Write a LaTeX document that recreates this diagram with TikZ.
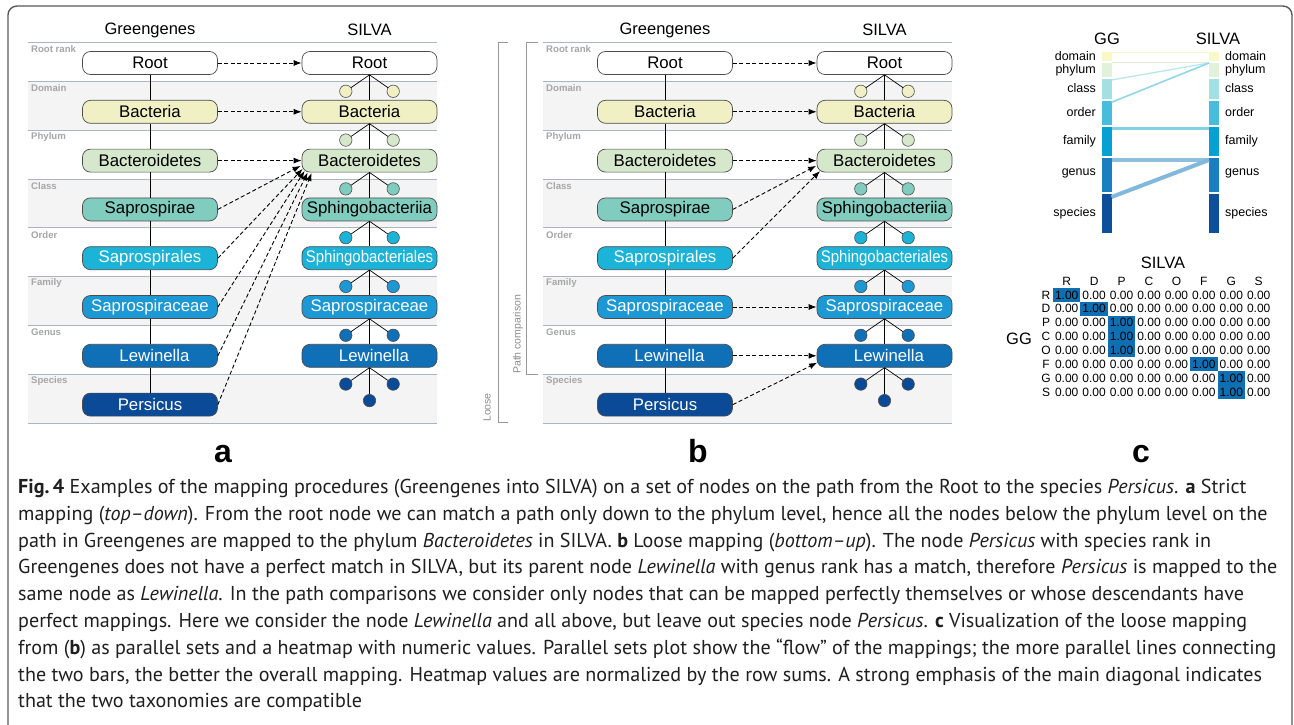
\documentclass[tikz,border=0pt]{standalone}
\usepackage{fontspec}
\usepackage{graphicx}
\setmainfont{Liberation Sans}
\newfontfamily\capfont{PT Sans}
\usetikzlibrary{arrows.meta}
\newcommand{\fsz}[1]{\fontsize{#1}{#1}\selectfont}
\newcommand{\sphord}{\scalebox{0.89}[1]{Sphingobacteriales}}
\newcommand{\lewtxt}{\hspace*{9pt}Lewinella}
\definecolor{cdom}{HTML}{F1F0C4}
\definecolor{cphy}{HTML}{D5E8CB}
\definecolor{ccla}{HTML}{80CDC0}
\definecolor{cord}{HTML}{1BB4D8}
\definecolor{cfam}{HTML}{1C98D4}
\definecolor{cgen}{HTML}{0F70B7}
\definecolor{cspe}{HTML}{0B4A96}
\definecolor{bandgrey}{HTML}{F4F4F4}
\definecolor{rowln}{HTML}{A8B6C4}
\definecolor{pdom}{HTML}{FAF8C9}
\definecolor{pphy}{HTML}{E0F3DA}
\definecolor{pcla}{HTML}{A2E0E3}
\definecolor{pord}{HTML}{47BDDB}
\definecolor{pfam}{HTML}{06A0D2}
\definecolor{pgen}{HTML}{1A7FC1}
\definecolor{pspe}{HTML}{0C4F9B}
\definecolor{hmblue}{HTML}{0F6FB3}
\tikzset{
  tax/.style={draw=black!70, line width=0.7pt, rounded corners=8pt, minimum width=135pt,
    minimum height=23pt, inner sep=0pt, font=\fsz{16.8}},
  circ/.style={circle, draw=black!70, line width=0.6pt, minimum size=12.4pt, inner sep=0pt},
  tline/.style={line width=0.7pt, black},
  marr/.style={line width=0.9pt, dash pattern=on 4pt off 2.5pt, -{Latex[length=8pt,width=6pt]}},
  band/.style={fill=bandgrey},
  rowline/.style={draw=rowln, line width=0.8pt},
  ranklab/.style={anchor=west, inner sep=0pt, font=\fsz{9.6}\bfseries, text=black!35},
  hdr/.style={inner sep=0pt, font=\fsz{16.5}},
  plab/.style={inner sep=0pt, font=\fsz{32}\bfseries, anchor=base},
  brk/.style={draw=black!40, line width=0.9pt},
  brklab/.style={inner sep=0pt, font=\fsz{10.5}, text=black!45, rotate=90, anchor=west},
  pslab/.style={inner sep=0pt, font=\fsz{12.5}},
  hm/.style={inner sep=0pt, font=\fsz{12}},
  captxt/.style={anchor=base west, inner sep=0pt, font=\capfont\fsz{20.1}, text=black!88},
  frame/.style={draw=black!65, line width=1.4pt, rounded corners=9pt}
}
\newcommand{\drawtree}{%
  \foreach \i in {1,3,5,7}{\fill[band] (28,{32.5+48.8*\i}) rectangle (437,{81.3+48.8*\i});}
  \draw[rowline] (28,42) -- (437,42);
  \foreach \i in {1,...,8}{\draw[rowline] (28,{32.5+48.8*\i}) -- (437,{32.5+48.8*\i});}
  \node[ranklab] (rk0) at (31,49) {Root rank};
  \foreach \i/\r in {1/Domain,2/Phylum,3/Class,4/Order,5/Family,6/Genus,7/Species}{
    \node[ranklab] (rk\i) at (31,{39.5+48.8*\i}) {\r};}
  \node[hdr] (hg) at (150,30) {Greengenes};
  \node[hdr] (hs) at (369.5,30) {SILVA};
  \foreach \i/\gn/\sn/\col/\tc in {0/Root/Root/white/black,1/Bacteria/Bacteria/cdom/black,
      2/Bacteroidetes/Bacteroidetes/cphy/black,3/Saprospirae/Sphingobacteriia/ccla/black,
      4/Saprospirales/\sphord/cord/white,5/Saprospiraceae/Saprospiraceae/cfam/white,
      6/\lewtxt/\lewtxt/cgen/white}{
    \node[tax, fill=\col, text=\tc] (g\i) at (150,{63+48.8*\i}) {\gn};
    \node[tax, fill=\col, text=\tc] (s\i) at (369.5,{63+48.8*\i}) {\sn};
  }
  \node[tax, fill=cspe, text=white] (g7) at (150,404.6) {Persicus};
  \foreach \i/\col in {1/cdom,2/cphy,3/ccla,4/cord,5/cfam,6/cgen,7/cspe}{
    \node[circ, fill=\col] (cl\i) at (345.8,{42.5+48.8*\i}) {};
    \node[circ, fill=\col] (cr\i) at (393.2,{42.5+48.8*\i}) {};
  }
  \node[circ, fill=cspe] (cc7) at (369.5,400.6) {};
  \foreach \i in {1,...,7}{
    \pgfmathtruncatemacro\j{\i-1}
    \draw[tline] (g\j) -- (g\i);
    \draw[tline] (s\j.south) -- (cl\i);
    \draw[tline] (s\j.south) -- (cr\i);
  }
  \foreach \i in {1,...,6}{
    \pgfmathtruncatemacro\j{\i-1}
    \draw[tline] (s\j) -- (s\i);
  }
  \draw[tline] (s6) -- (cc7);
}
\begin{document}
\begin{tikzpicture}[x=1pt,y=-1pt]
\useasboundingbox (0,0) rectangle (1294,725);
\clip (0,0) rectangle (1294,725);
\fill[white] (0,0) rectangle (1294,725);
\draw[frame] (8,780) -- (8,6) -- (1292,6) -- (1292,780);

% ---------- panel a ----------
\begin{scope}[name prefix=a-]
  \drawtree
  \draw[marr] (g0.east) -- (s0.west);
  \draw[marr] (g1.east) -- (s1.west);
  \draw[marr] (g2.east) -- (s2.west);
  \draw[marr] (g3.east) -- ([shift={(-1,-6.6)}]s2.south west);
  \draw[marr] (g4.east) -- ([shift={(1,-3.6)}]s2.south west);
  \draw[marr] (g5.east) -- ([shift={(3,-1.6)}]s2.south west);
  \draw[marr] (g6.east) -- ([shift={(6,0)}]s2.south west);
  \draw[marr] (g7.east) -- ([shift={(10,0.5)}]s2.south west);
  \node[plab] (la) at (223,462) {a};
\end{scope}

% ---------- panel b ----------
\begin{scope}[xshift=515pt, name prefix=b-]
  \drawtree
  \draw[marr] (g0.east) -- (s0.west);
  \draw[marr] (g1.east) -- (s1.west);
  \draw[marr] (g2.east) -- (s2.west);
  \draw[marr] (g3.east) -- ([shift={(-0.5,-6.6)}]s2.south west);
  \draw[marr] (g4.east) -- ([shift={(3.4,-1.4)}]s2.south west);
  \draw[marr] (g5.east) -- (s5.west);
  \draw[marr] (g6.east) -- (s6.west);
  \draw[marr] (g7.east) -- ([shift={(0.5,-5)}]s6.south west);
  \node[plab] (lb) at (183,462) {b};
\end{scope}
\draw[brk] (508,42) -- (498,42) -- (498,422) -- (508,422);
\draw[brk] (538,42) -- (526,42) -- (526,374) -- (538,374);
\node[brklab] (pc) at (518,374) {Path comparison};
\node[brklab] (lo) at (487,422) {Loose};

% ---------- panel c : parallel sets ----------
\node[hdr] (pgg) at (1107,39) {GG};
\node[hdr] (psi) at (1218,39) {SILVA};
\foreach \n/\t/\b/\col/\ly in {domain/51.7/61.3/pdom/57.5, phylum/62.6/77.0/pphy/71,
    class/79.0/98.7/pcla/90, order/101.0/125.0/pord/114, family/127.0/156.0/pfam/141.5,
    genus/158.0/192.3/pgen/172.5, species/194.0/233.3/pspe/214}{
  \fill[\col] (1102,\t) rectangle (1111.5,\b);
  \fill[\col] (1209,\t) rectangle (1218.5,\b);
  \node[pslab, anchor=mid east] (gl-\n) at (1096,\ly) {\n};
  \node[pslab, anchor=mid west] (sl-\n) at (1225,\ly) {\n};
}
\draw[pdom, line width=1pt] (1111.5,52.2) -- (1209,52.2);
\draw[pphy!80!cphy, line width=1pt] (1111.5,63) -- (1209,63);
\draw[pcla!75!white, line width=1.3pt] (1111.5,80) -- (1209,63);
\draw[pord!60!white, line width=1.6pt] (1111.5,102.3) -- (1209,63);
\draw[pfam!50!white, line width=2.8pt] (1111.5,128.3) -- (1209,128.3);
\draw[pgen!50!white, line width=3.3pt] (1111.5,160) -- (1209,160);
\draw[pgen!55!white, line width=4pt] (1111.5,197) -- (1209,160);

% ---------- panel c : heatmap ----------
\node[hdr] (hms) at (1163,263) {SILVA};
\node[hdr] (hmg) at (1019,339) {GG};
\foreach \k/\h in {0/0,1/1,2/2,3/2,4/2,5/5,6/6,7/6}{
  \fill[hmblue] ({1053+27.43*\h},{288.1+13.85*\k}) rectangle +(27.43,13.85);
}
\foreach \r [count=\k from 0] in {R,D,P,C,O,F,G,S}{
  \node[hm] (hr\k) at (1046,{295+13.85*\k}) {\r};
  \node[hm] (hc\k) at ({1066.7+27.43*\k},281.7) {\r};
}
\foreach \k/\h in {0/0,1/1,2/2,3/2,4/2,5/5,6/6,7/6}{
  \foreach \j in {0,...,7}{
    \node[hm] (v\k\j) at ({1066.7+27.43*\j},{295+13.85*\k}) {\ifnum\j=\h\relax 1.00\else 0.00\fi};
  }
}
\node[plab] (lc) at (1141,462) {c};

% ---------- caption ----------
\node[captxt] (cap1) at (18,493.5) {\textbf{Fig.\,4} Examples of the mapping procedures (Greengenes into SILVA) on a set of nodes on the path from the Root to the species \textit{Persicus}. \textbf{a} Strict};
\node[captxt] (cap2) at (18,520.3) {mapping (\textit{top–down}). From the root node we can match a path only down to the phylum level, hence all the nodes below the phylum level on the};
\node[captxt] (cap3) at (18,547.1) {path in Greengenes are mapped to the phylum \textit{Bacteroidetes} in SILVA. \textbf{b} Loose mapping (\textit{bottom–up}). The node \textit{Persicus} with species rank in};
\node[captxt] (cap4) at (18,573.9) {Greengenes does not have a perfect match in SILVA, but its parent node \textit{Lewinella} with genus rank has a match, therefore \textit{Persicus} is mapped to the};
\node[captxt] (cap5) at (18,600.7) {same node as \textit{Lewinella}. In the path comparisons we consider only nodes that can be mapped perfectly themselves or whose descendants have};
\node[captxt] (cap6) at (18,627.5) {perfect mappings. Here we consider the node \textit{Lewinella} and all above, but leave out species node \textit{Persicus}. \textbf{c} Visualization of the loose mapping};
\node[captxt] (cap7) at (18,654.3) {from (\textbf{b}) as parallel sets and a heatmap with numeric values. Parallel sets plot show the “flow” of the mappings; the more parallel lines connecting};
\node[captxt] (cap8) at (18,681.1) {the two bars, the better the overall mapping. Heatmap values are normalized by the row sums. A strong emphasis of the main diagonal indicates};
\node[captxt] (cap9) at (18,707.9) {that the two taxonomies are compatible};
\end{tikzpicture}
\end{document}
